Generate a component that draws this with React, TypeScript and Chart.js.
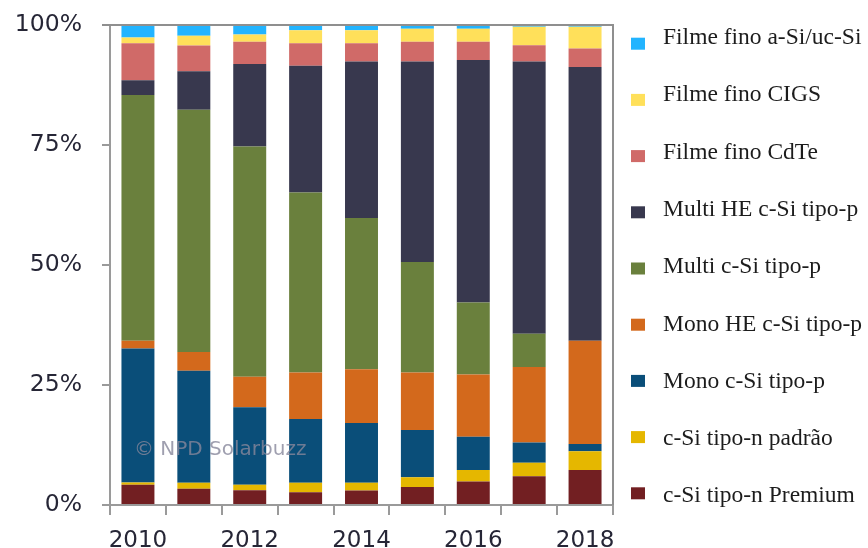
import { useEffect, useRef } from "react";
import { Chart, registerables } from "chart.js";

Chart.register(...registerables);

const years = ["2010", "2011", "2012", "2013", "2014", "2015", "2016", "2017", "2018"];
const yTicks = [0, 25, 50, 75, 100];

// stacked from bottom to top (percent share)
const nPremium = [4.2, 3.4, 3.05, 2.65, 3.0, 3.75, 4.9, 6.0, 7.3];
const nPadrao = [0.5, 1.25, 1.15, 2.0, 1.65, 2.05, 2.4, 2.8, 3.9];
const monoP = [27.9, 23.3, 16.15, 13.25, 12.45, 9.8, 6.9, 4.2, 1.5];
const monoHE = [1.6, 3.9, 6.35, 9.7, 11.2, 12.0, 13.0, 15.75, 21.5];
const multiP = [51.2, 50.5, 48.0, 37.5, 31.5, 23.0, 15.0, 6.95, 0];
const multiHE = [3.1, 8.0, 17.2, 26.4, 32.6, 41.8, 50.5, 56.7, 57.05];
const cdte = [7.7, 5.4, 4.6, 4.7, 3.8, 4.1, 3.8, 3.4, 3.85];
const cigs = [1.2, 2.0, 1.5, 2.7, 2.7, 2.7, 2.7, 3.85, 4.55];
const aSi = [2.6, 2.25, 2.0, 1.1, 1.1, 0.8, 0.8, 0.35, 0.35];

const seriesNames = [
  "c-Si tipo-n Premium",
  "c-Si tipo-n padrão",
  "Mono c-Si tipo-p",
  "Mono HE c-Si tipo-p",
  "Multi c-Si tipo-p",
  "Multi HE c-Si tipo-p",
  "Filme fino CdTe",
  "Filme fino CIGS",
  "Filme fino a-Si/uc-Si",
];
const seriesValues = [nPremium, nPadrao, monoP, monoHE, multiP, multiHE, cdte, cigs, aSi];
const seriesColors = [
  "#721f22",
  "#e5b700",
  "#0a4e79",
  "#d3691c",
  "#6a803d",
  "#38384e",
  "#d06a68",
  "#ffe05a",
  "#22b4ff",
];

const watermark = "© NPD Solarbuzz";

const extrasPlugin = {
  id: "extras",
  afterDatasetsDraw(chart: any) {
    const { ctx, chartArea: a } = chart;
    ctx.save();
    // frame top & right
    ctx.strokeStyle = "#8f8f8f";
    ctx.lineWidth = 2;
    ctx.beginPath();
    ctx.moveTo(a.left - 8, a.top);
    ctx.lineTo(a.right, a.top);
    ctx.lineTo(a.right, a.bottom);
    ctx.stroke();
    // watermark
    const xs = chart.scales.x;
    const ys = chart.scales.y;
    ctx.font = '20px "DejaVu Sans"';
    ctx.fillStyle = "rgba(135,135,155,0.8)";
    ctx.textAlign = "left";
    ctx.textBaseline = "middle";
    ctx.fillText(watermark, xs.getPixelForValue(0) - 4, ys.getPixelForValue(11.5));
    ctx.restore();
  },
  afterDraw(chart: any) {
    const { ctx, chartArea: a } = chart;
    const ds = chart.data.datasets;
    ctx.save();
    ctx.font = '23.5px "Liberation Serif"';
    ctx.textAlign = "left";
    ctx.textBaseline = "alphabetic";
    const n = ds.length;
    for (let i = 0; i < n; i++) {
      const d = ds[n - 1 - i];
      const boxCy = 43.7 + i * 56.2;
      const textBase = 44 + i * 57.3;
      ctx.fillStyle = d.backgroundColor;
      ctx.fillRect(a.right + 18, boxCy - 6, 14, 12);
      ctx.fillStyle = "#1c1c1c";
      ctx.fillText(d.label, a.right + 50, textBase);
    }
    ctx.restore();
  },
};

export default function App() {
  const ref = useRef<HTMLCanvasElement | null>(null);
  useEffect(() => {
    if (!ref.current) return;
    const chart = new Chart(ref.current, {
      type: "bar",
      data: {
        labels: years,
        datasets: seriesNames.map((name, i) => ({
          label: name,
          data: seriesValues[i],
          backgroundColor: seriesColors[i],
          borderWidth: 0,
          categoryPercentage: 1,
          barPercentage: 0.59,
        })),
      },
      options: {
        animation: false,
        responsive: false,
        devicePixelRatio: 1,
        layout: { padding: { left: 0, right: 255, top: 25, bottom: 0 } },
        plugins: { legend: { display: false }, tooltip: { enabled: false } },
        scales: {
          x: {
            stacked: true,
            grid: {
              offset: true,
              drawOnChartArea: false,
              drawTicks: true,
              tickLength: 10,
              color: "#9a9a9a",
              lineWidth: 2,
            },
            border: { display: true, color: "#9a9a9a", width: 2 },
            ticks: {
              autoSkip: false,
              maxRotation: 0,
              padding: 12,
              color: "#262636",
              font: { family: "DejaVu Sans", size: 23 },
              callback: (_v: any, idx: number) => (idx % 2 === 0 ? years[idx] : ""),
            },
            afterFit: (s: any) => {
              s.height = 43;
              s.paddingLeft = 0;
              s.paddingRight = 0;
            },
          },
          y: {
            stacked: true,
            min: 0,
            max: 100,
            afterBuildTicks: (s: any) => {
              s.ticks = yTicks.map((v) => ({ value: v }));
            },
            grid: {
              drawOnChartArea: false,
              drawTicks: true,
              tickLength: 8,
              color: "#9a9a9a",
              lineWidth: 2,
            },
            border: { display: true, color: "#9a9a9a", width: 2 },
            ticks: {
              padding: 20,
              color: "#262636",
              font: { family: "DejaVu Sans", size: 23.5 },
              callback: (v: any) => v + "%",
            },
            afterFit: (s: any) => {
              s.width = 110;
              s.paddingTop = 0;
              s.paddingBottom = 0;
            },
          },
        },
      },
      plugins: [extrasPlugin],
    });
    return () => chart.destroy();
  }, []);
  return (
    <div style={{ position: "absolute", left: 0, top: 0, width: 868, height: 548, background: "#fff" }}>
      <canvas ref={ref} width={868} height={548} style={{ display: "block" }} />
    </div>
  );
}
